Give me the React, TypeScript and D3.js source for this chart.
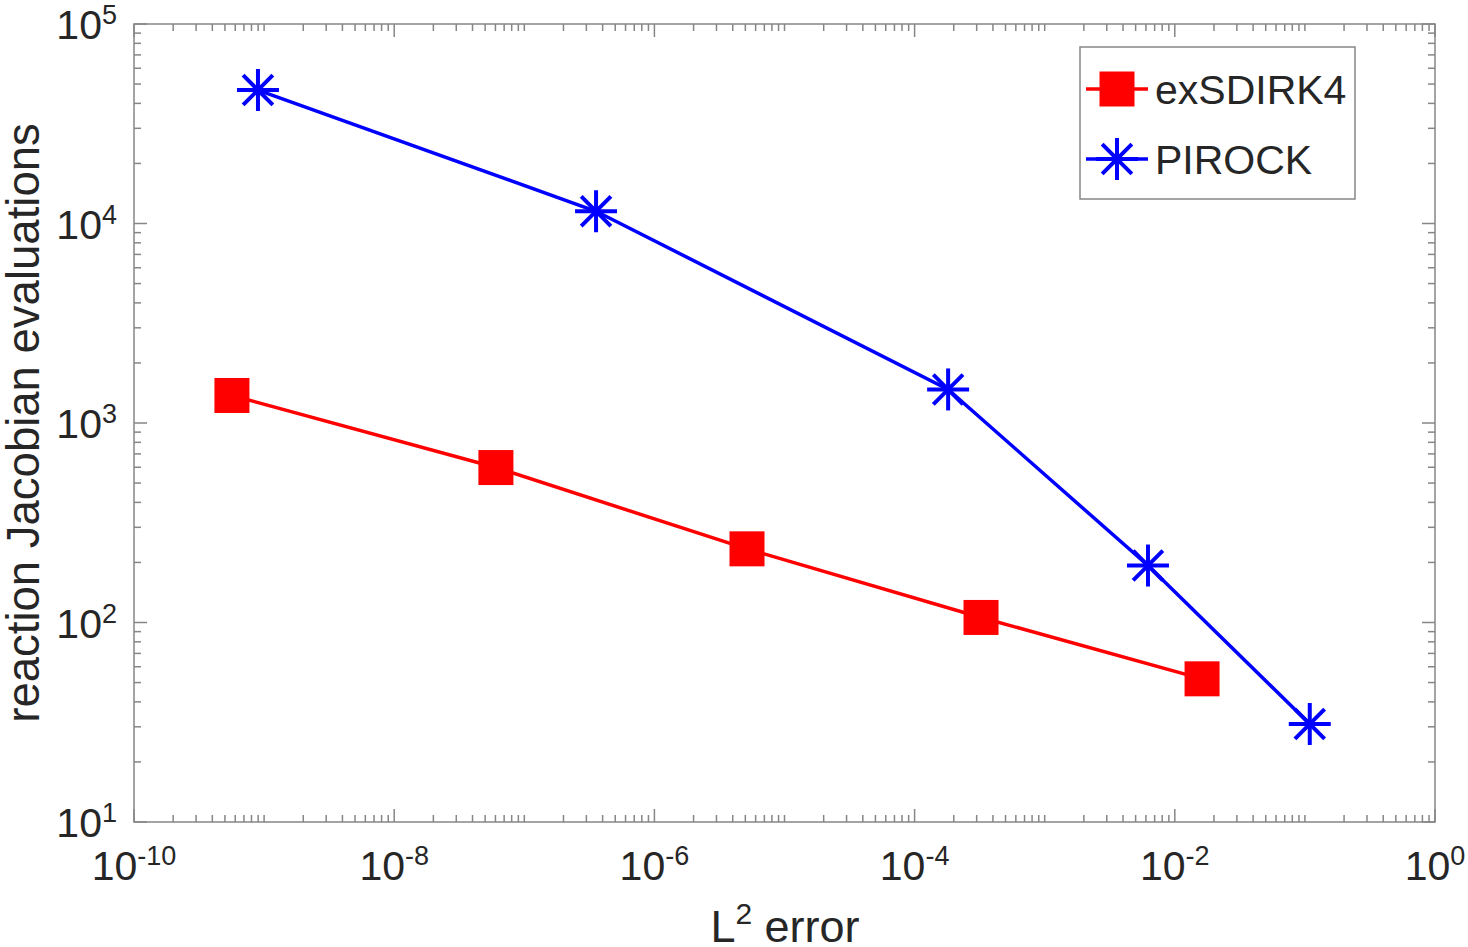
import * as d3 from "d3";

// L2 error vs. reaction Jacobian evaluations for the two integrators
const sdirkError = [5.66e-10, 6.05e-8, 5.15e-6, 3.24e-4, 1.62e-2];
const sdirkEvals = [1374, 598, 234, 106, 52.2];
const pirockError = [8.97e-10, 3.56e-7, 1.81e-4, 6.22e-3, 0.109];
const pirockEvals = [46670, 11520, 1473, 193, 31];

const xTickExponents = [-10, -8, -6, -4, -2, 0];
const yTickExponents = [1, 2, 3, 4, 5];
const seriesNames = ["exSDIRK4", "PIROCK"];

const W = 1468;
const H = 947;
const M = { left: 134, right: 1435, top: 24, bottom: 822 };
const AXIS = "#868686";
const TEXT = "#262626";
const FONT = "'Liberation Sans', Arial, Helvetica, sans-serif";

function Star({ x, y, r }: { x: number; y: number; r: number }) {
  const d = r * Math.SQRT1_2;
  return (
    <g stroke="#0000ff" strokeWidth={4}>
      <line x1={x - r} y1={y} x2={x + r} y2={y} />
      <line x1={x} y1={y - r} x2={x} y2={y + r} />
      <line x1={x - d} y1={y - d} x2={x + d} y2={y + d} />
      <line x1={x - d} y1={y + d} x2={x + d} y2={y - d} />
    </g>
  );
}

export default function App() {
  const x = d3.scaleLog().domain([1e-10, 1]).range([M.left, M.right]);
  const y = d3.scaleLog().domain([10, 1e5]).range([M.bottom, M.top]);

  // minor ticks: every k*10^e, skipping the labelled ones
  const xMinor: number[] = [];
  for (let e = -10; e < 0; e++)
    for (let k = 1; k <= 9; k++) {
      const v = k * Math.pow(10, e);
      if (k === 1 && e % 2 === 0) continue;
      xMinor.push(v);
    }
  const yMinor: number[] = [];
  for (let e = 1; e < 5; e++)
    for (let k = 2; k <= 9; k++) yMinor.push(k * Math.pow(10, e));

  const line = d3
    .line<[number, number]>()
    .x((d) => x(d[0]))
    .y((d) => y(d[1]));

  const sdirk = sdirkError.map((e, i) => [e, sdirkEvals[i]] as [number, number]);
  const pirock = pirockError.map((e, i) => [e, pirockEvals[i]] as [number, number]);

  const major = 13;
  const minor = 7;
  const sq = 35;

  return (
    <svg
      width={W}
      height={H}
      style={{ position: "absolute", left: 0, top: 0, background: "#fff" }}
      fontFamily={FONT}
    >
      <rect x={0} y={0} width={W} height={H} fill="#fff" />

      {/* ticks on all four sides */}
      <g stroke={AXIS} strokeWidth={1.5}>
        {xMinor.map((v) => (
          <g key={"xm" + v}>
            <line x1={x(v)} x2={x(v)} y1={M.bottom} y2={M.bottom - minor} />
            <line x1={x(v)} x2={x(v)} y1={M.top} y2={M.top + minor} />
          </g>
        ))}
        {xTickExponents.map((e) => (
          <g key={"xM" + e}>
            <line x1={x(10 ** e)} x2={x(10 ** e)} y1={M.bottom} y2={M.bottom - major} />
            <line x1={x(10 ** e)} x2={x(10 ** e)} y1={M.top} y2={M.top + major} />
          </g>
        ))}
        {yMinor.map((v) => (
          <g key={"ym" + v}>
            <line y1={y(v)} y2={y(v)} x1={M.left} x2={M.left + minor} />
            <line y1={y(v)} y2={y(v)} x1={M.right} x2={M.right - minor} />
          </g>
        ))}
        {yTickExponents.map((e) => (
          <g key={"yM" + e}>
            <line y1={y(10 ** e)} y2={y(10 ** e)} x1={M.left} x2={M.left + major} />
            <line y1={y(10 ** e)} y2={y(10 ** e)} x1={M.right} x2={M.right - major} />
          </g>
        ))}
        <rect
          x={M.left}
          y={M.top}
          width={M.right - M.left}
          height={M.bottom - M.top}
          fill="none"
        />
      </g>

      {/* tick labels */}
      <g fill={TEXT}>
        {xTickExponents.map((e) => (
          <text key={"xl" + e} x={x(10 ** e)} y={880} textAnchor="middle" fontSize={41}>
            10
            <tspan fontSize={27} dy={-15}>
              {e}
            </tspan>
          </text>
        ))}
        {yTickExponents.map((e) => (
          <text key={"yl" + e} x={117} y={y(10 ** e) + 15} textAnchor="end" fontSize={41}>
            10
            <tspan fontSize={27} dy={-15}>
              {e}
            </tspan>
          </text>
        ))}
      </g>

      {/* axis titles */}
      <text x={785} y={942} textAnchor="middle" fontSize={45} fill={TEXT}>
        L
        <tspan fontSize={30} dy={-18}>
          2
        </tspan>
        <tspan dy={18}> error</tspan>
      </text>
      <text
        transform={`translate(39, ${(M.top + M.bottom) / 2}) rotate(-90)`}
        textAnchor="middle"
        fontSize={45.5}
        fill={TEXT}
      >
        reaction Jacobian evaluations
      </text>

      {/* series */}
      <path d={line(sdirk) ?? ""} fill="none" stroke="#ff0000" strokeWidth={3.5} />
      {sdirk.map((d, i) => (
        <rect
          key={"s" + i}
          x={x(d[0]) - sq / 2}
          y={y(d[1]) - sq / 2}
          width={sq}
          height={sq}
          fill="#ff0000"
        />
      ))}
      <path d={line(pirock) ?? ""} fill="none" stroke="#0000ff" strokeWidth={3.5} />
      {pirock.map((d, i) => (
        <Star key={"p" + i} x={x(d[0])} y={y(d[1])} r={21} />
      ))}

      {/* legend */}
      <rect x={1080} y={47} width={275} height={152} fill="#fff" stroke={AXIS} strokeWidth={1.5} />
      <line x1={1086} x2={1148} y1={89} y2={89} stroke="#ff0000" strokeWidth={3.5} />
      <rect x={1117 - sq / 2} y={89 - sq / 2} width={sq} height={sq} fill="#ff0000" />
      <text x={1155} y={89 + 15} fontSize={41} fill={TEXT}>
        {seriesNames[0]}
      </text>
      <line x1={1086} x2={1148} y1={159} y2={159} stroke="#0000ff" strokeWidth={3.5} />
      <Star x={1117} y={159} r={21} />
      <text x={1155} y={159 + 15} fontSize={41} fill={TEXT}>
        {seriesNames[1]}
      </text>
    </svg>
  );
}
